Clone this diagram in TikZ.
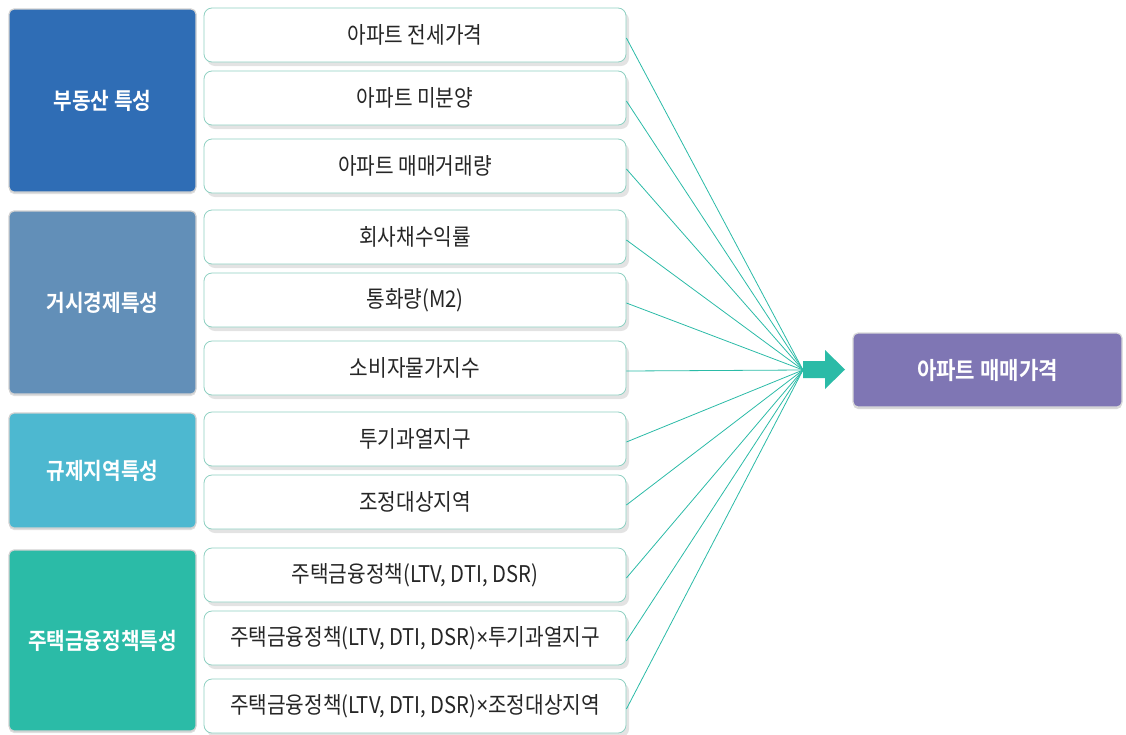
\documentclass[tikz,border=0pt]{standalone}
\usepackage{fontspec}
\newfontfamily\kr[FakeStretch=0.88]{Noto Sans CJK KR}
\newfontfamily\krb[FakeStretch=0.88]{Noto Sans CJK KR Bold}
\newfontfamily\lat[FakeStretch=0.88]{Noto Sans}
\usetikzlibrary{shadows}
\definecolor{cA}{HTML}{2F6DB5}
\definecolor{cB}{HTML}{628FB8}
\definecolor{cC}{HTML}{4DB8D0}
\definecolor{cD}{HTML}{2BBBA7}
\definecolor{cP}{HTML}{7F76B4}
\definecolor{cE}{HTML}{8FD0C2}
\definecolor{cL}{HTML}{2BBBA7}
\tikzset{
  catbox/.style={draw=black!18, line width=1.2pt, rounded corners=5pt, minimum width=187pt, inner sep=0pt,
    font=\krb\fontsize{23}{26}\selectfont, text=white,
    drop shadow={opacity=0.25, shadow xshift=0pt, shadow yshift=-2pt}},
  itembox/.style={draw=cE, line width=0.8pt, fill=white, rounded corners=8pt, minimum width=422pt, minimum height=54pt, inner sep=0pt,
    font=\kr\fontsize{23}{26}\selectfont, text=black!85,
    drop shadow={opacity=0.22, shadow xshift=3pt, shadow yshift=-4pt}},
  conn/.style={draw=cL, line width=0.8pt},
  outbox/.style={draw=black!15, line width=1.2pt, fill=cP, rounded corners=5pt, minimum width=269pt, minimum height=74pt, inner sep=0pt,
    font=\krb\fontsize{24}{27}\selectfont, text=white,
    drop shadow={opacity=0.3, shadow xshift=0pt, shadow yshift=-2pt}},
}
\begin{document}
\begin{tikzpicture}[x=1pt,y=-1pt]
\useasboundingbox (0,0) rectangle (1126,734);
% category boxes
\node[catbox, fill=cA, minimum height=183pt] (c1) at (102.5,100.5) {부동산 특성};
\node[catbox, fill=cB, minimum height=183pt] (c2) at (102.5,302.5) {거시경제특성};
\node[catbox, fill=cC, minimum height=115pt] (c3) at (102.5,470.5) {규제지역특성};
\node[catbox, fill=cD, minimum height=181pt] (c4) at (102.5,640.5) {주택금융정책특성};
% item boxes
\node[itembox] (i1) at (415,35) {아파트 전세가격};
\node[itembox] (i2) at (415,98) {아파트 미분양};
\node[itembox] (i3) at (415,166) {아파트 매매거래량};
\node[itembox] (i4) at (415,237) {회사채수익률};
\node[itembox] (i5) at (415,300) {통화량(M2)};
\node[itembox] (i6) at (415,368) {소비자물가지수};
\node[itembox] (i7) at (415,439) {투기과열지구};
\node[itembox] (i8) at (415,502) {조정대상지역};
\node[itembox] (i9) at (415,575) {주택금융정책(LTV, DTI, DSR)};
\node[itembox] (i10) at (415,638) {주택금융정책(LTV, DTI, DSR){\lat ×}투기과열지구};
\node[itembox] (i11) at (415,706) {주택금융정책(LTV, DTI, DSR){\lat ×}조정대상지역};
% convergence
\coordinate (m) at (803,370);
\foreach \i in {1,...,11} { \draw[conn] ([yshift=-3pt]i\i.east) -- (m); }
% block arrow
\fill[cD] (803,361) -- (825,361) -- (825,350) -- (845,369.5) -- (825,389) -- (825,378) -- (803,378) -- cycle;
% output
\node[outbox] (out) at (987.5,370) {아파트 매매가격};
\end{tikzpicture}
\end{document}
